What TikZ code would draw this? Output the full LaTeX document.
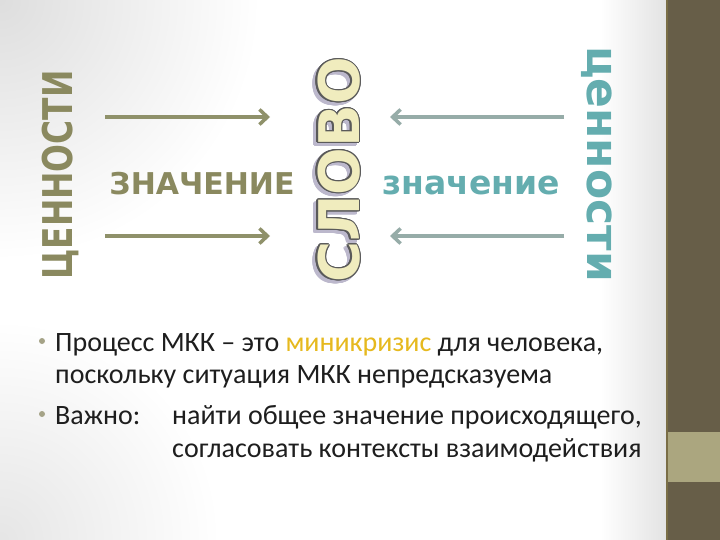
\documentclass[tikz,border=0pt]{standalone}
\usepackage{fontspec}
\setmainfont{Carlito}
\newfontfamily\headfont{DejaVu Sans}
\usepackage{contour}
\contourlength{1.1pt}
\usetikzlibrary{arrows.meta}
\definecolor{olivetext}{RGB}{138,137,95}
\definecolor{tealtext}{RGB}{100,173,175}
\definecolor{olivearr}{RGB}{143,145,106}
\definecolor{tealarr}{RGB}{150,172,168}
\definecolor{wordfill}{RGB}{240,236,190}
\definecolor{wordline}{RGB}{90,90,90}
\definecolor{wordshade}{RGB}{188,184,204}
\definecolor{sidedark}{RGB}{103,94,72}
\definecolor{sidelight}{RGB}{171,166,127}
\definecolor{sideedge}{RGB}{122,110,70}
\definecolor{bodytext}{RGB}{30,30,30}
\definecolor{crisis}{RGB}{230,185,30}
\definecolor{bulletcol}{RGB}{165,163,135}

\begin{document}
\begin{tikzpicture}[x=1pt,y=-1pt,
        head/.style={inner sep=0pt,anchor=base,font=\headfont\bfseries},
        olive arrow/.style={draw=olivearr,line width=3.5pt,-{Straight Barb[length=8pt,width=15pt]}},
        teal arrow/.style={draw=tealarr,line width=3.5pt,-{Straight Barb[length=8pt,width=15pt]}},
        body/.style={inner sep=0pt,anchor=base west,text=bodytext,font=\fontsize{28}{33}\selectfont},
        dot/.style={circle,fill=bulletcol,inner sep=0pt,minimum size=6pt}]
    \useasboundingbox (0,0) rectangle (720,540);
    \fill[white] (0,0) rectangle (720,540);
    \begin{scope}
        \clip (0,0) rectangle (666,540);
        \shade[inner color=black!13,outer color=white] (0,0) circle (260);
        \shade[inner color=black!10,outer color=white] (0,540) circle (220);
        \shade[left color=white,right color=black!11] (600,0) rectangle (666,540);
    \end{scope}
    \fill[sidedark] (666,0) rectangle (720,540);
    \fill[sidelight] (666,432) rectangle (720,482);
    \fill[sideedge] (666,0) rectangle (668,540);

    \node[head,rotate=90,text=olivetext] (values) at (72,175)
        {\scalebox{0.8}[1]{\fontsize{41}{41}\selectfont ЦЕННОСТИ}};
    \node[head,text=olivetext,font=\headfont\bfseries\fontsize{30}{30}\selectfont] (meaning) at (202,195) {ЗНАЧЕНИЕ};
    \node[head,rotate=90,text=wordshade,font=\headfont\bfseries\fontsize{56}{56}\selectfont] (wordsh) at (356,173)
        {\contour{wordshade}{СЛОВО}};
    \node[head,rotate=90,text=wordfill,font=\headfont\bfseries\fontsize{56}{56}\selectfont] (word) at (359,170)
        {\contour{wordline}{СЛОВО}};
    \node[head,text=tealtext,font=\headfont\bfseries\fontsize{33}{33}\selectfont] (meaning2) at (471,195) {значение};
    \node[head,rotate=-90,text=tealtext,font=\headfont\bfseries\fontsize{44}{44}\selectfont] (values2) at (587,164) {ценности};

    \coordinate (a1) at (105,117); \coordinate (b1) at (270,117);
    \coordinate (a2) at (105,236); \coordinate (b2) at (270,236);
    \coordinate (c1) at (564,117); \coordinate (d1) at (390,117);
    \coordinate (c2) at (564,236); \coordinate (d2) at (390,236);
    \draw[olive arrow] (a1) -- (b1);
    \draw[olive arrow] (a2) -- (b2);
    \draw[teal arrow] (c1) -- (d1);
    \draw[teal arrow] (c2) -- (d2);

    \node[dot] (dot1) at (42,341) {};
    \node[body] (line1) at (55,351) {Процесс МКК – это \textcolor{crisis}{миникризис} для человека,};
    \node[body] (line2) at (55,383) {поскольку ситуация МКК непредсказуема};
    \node[dot] (dot2) at (42,414) {};
    \node[body] (imp) at (55,424) {Важно:};
    \node[body] (line3) at (172,424) {найти общее значение происходящего,};
    \node[body] (line4) at (172,457) {согласовать контексты взаимодействия};
\end{tikzpicture}
\end{document}
